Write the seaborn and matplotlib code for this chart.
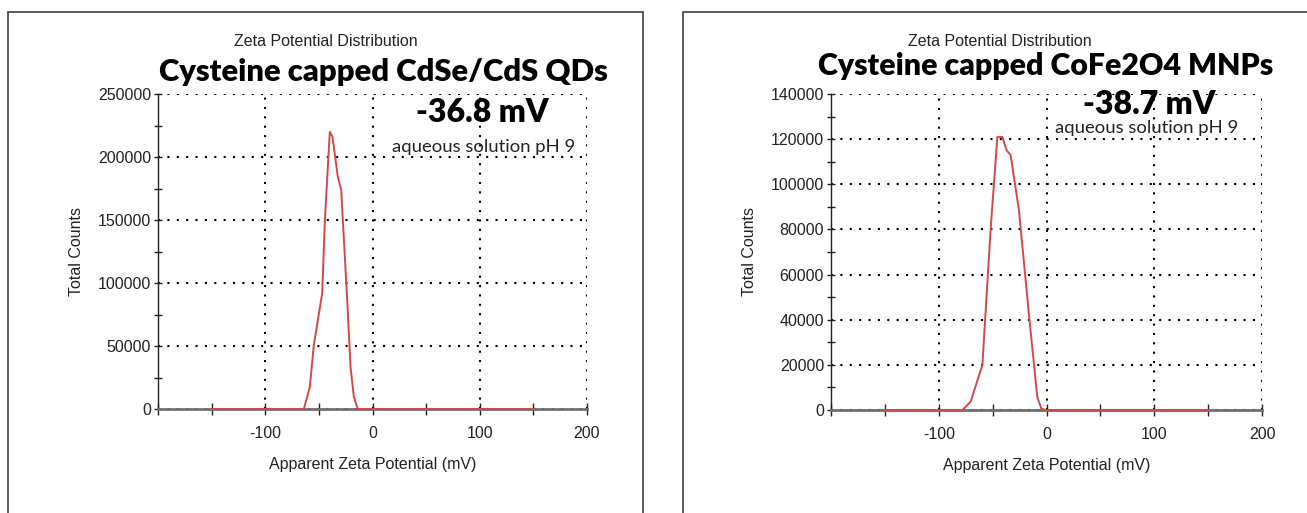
import matplotlib
matplotlib.use("Agg")
import matplotlib.pyplot as plt
import seaborn as sns
import pandas as pd
from matplotlib.ticker import MultipleLocator
from matplotlib.patches import Rectangle

# ---- data ----
qd_x = [-150, -64, -58.4, -54.7, -46.9, -44.4, -39.8, -37.3, -32.3, -29.2, -23.6, -20.5, -17.4, -13.7, 150]
qd_y = [0, 0, 17700, 50800, 91800, 150000, 220000, 216000, 184000, 174000, 86500, 33600, 9800, 0, 0]
mnp_x = [-150, -78, -70.4, -59.5, -51.9, -45.6, -41.0, -37.0, -33.3, -25.6, -16.4, -8.6, -4.9, -1.0, 150]
mnp_y = [0, 0, 3700, 20000, 79700, 121000, 121000, 115000, 113000, 88600, 42800, 5900, 700, 0, 0]

titles = ["Cysteine capped CdSe/CdS QDs", "Cysteine capped CoFe2O4 MNPs"]
zetas = ["-36.8 mV", "-38.7 mV"]
subtitle = "Zeta Potential Distribution"
note = "aqueous solution pH 9"
xlabel = "Apparent Zeta Potential (mV)"
ylabel = "Total Counts"
xticks = [-100, 0, 100, 200]
xticklabels = ["-100", "0", "100", "200"]
ymaxes = [250000, 140000]
ymajor = [50000, 20000]
yminor = [25000, 10000]

sns.set_style("white")
plt.rcParams['font.family'] = ['Liberation Sans', 'DejaVu Sans']

W, H = 1307, 513
fig = plt.figure(figsize=(W / 100, H / 100), dpi=100)

def fx(px):
    return px / W

def fy(py):
    return 1 - py / H

# panel frames
for (x0, x1) in [(8, 643), (683, 1320)]:
    fig.patches.append(Rectangle((fx(x0), fy(530)), fx(x1) - fx(x0), fy(12) - fy(530),
                                 transform=fig.transFigure, fill=False,
                                 edgecolor="#404040", linewidth=1.2))

axes_px = [(158, 587, 94, 409), (831, 1262, 94, 410)]
datasets = [(qd_x, qd_y), (mnp_x, mnp_y)]

for i, ((l, r, t, b), (xs, ys)) in enumerate(zip(axes_px, datasets)):
    ax = fig.add_axes([fx(l), fy(b), fx(r) - fx(l), fy(t) - fy(b)])
    df = pd.DataFrame({"x": xs, "y": ys})
    ax.set_xlim(-200, 200)
    ax.set_ylim(0, ymaxes[i])
    ax.xaxis.set_major_locator(MultipleLocator(100))
    ax.xaxis.set_minor_locator(MultipleLocator(50))
    ax.yaxis.set_major_locator(MultipleLocator(ymajor[i]))
    ax.yaxis.set_minor_locator(MultipleLocator(yminor[i]))
    ax.grid(True, which="major", color="black", linestyle=(0, (1, 3.5)), linewidth=1.5)
    for s in ["top", "right"]:
        ax.spines[s].set_visible(False)
    ax.spines["left"].set_color("#202020")
    ax.spines["left"].set_linewidth(1.0)
    ax.spines["bottom"].set_color("#707070")
    ax.spines["bottom"].set_linewidth(2.0)
    ax.tick_params(axis="both", which="both", direction="inout", color="#202020",
                   labelsize=11.5, labelcolor="#222222", bottom=True, left=True)
    ax.tick_params(axis="x", which="both", length=8, width=1, pad=8)
    ax.tick_params(axis="y", which="both", length=6, width=1, pad=2)
    ax.set_xticks(xticks)
    ax.set_xticklabels(xticklabels)
    sns.lineplot(data=df, x="x", y="y", ax=ax, color="#d44848", linewidth=1.4,
                 estimator=None, sort=False, zorder=5, clip_on=False)
    ax.set_xlabel(xlabel, fontsize=11.5, color="#222222", labelpad=12)
    ax.set_ylabel(ylabel, fontsize=11.5, color="#222222", labelpad=10)

# texts
bold = ["Lato", "DejaVu Sans"]
fig.text(fx(326), fy(41), subtitle, ha="center", va="center", fontsize=11.5, color="#222222")
fig.text(fx(1000), fy(41), subtitle, ha="center", va="center", fontsize=11.5, color="#222222")
fig.text(fx(383), fy(72), titles[0], ha="center", va="center", fontsize=22.3,
         fontweight="heavy", family=bold, color="black")
fig.text(fx(1046), fy(66), titles[1], ha="center", va="center", fontsize=21.8,
         fontweight="heavy", family=bold, color="black")
fig.text(fx(482), fy(113), zetas[0], ha="center", va="center", fontsize=23,
         fontweight="heavy", family=bold, color="black")
fig.text(fx(1149), fy(105), zetas[1], ha="center", va="center", fontsize=23,
         fontweight="heavy", family=bold, color="black")
fig.text(fx(484), fy(147), note, ha="center", va="center", fontsize=13.3,
         family=bold, color="#222222")
fig.text(fx(1147), fy(128), note, ha="center", va="center", fontsize=13.3,
         family=bold, color="#222222")

fig.savefig("out.png", dpi=100, facecolor="white")
